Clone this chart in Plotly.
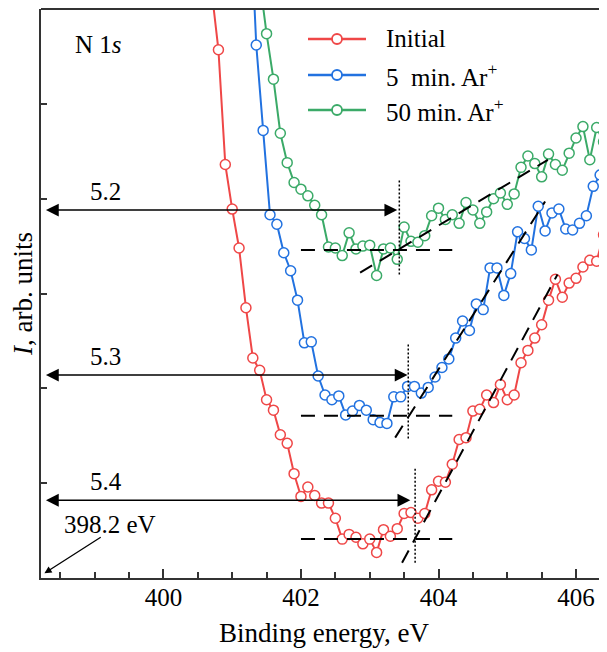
import plotly.graph_objects as go

# N 1s spectra, 0.1 eV steps (arb. units)
red_x = [400.7, 400.8, 400.9, 401.0, 401.1, 401.2, 401.3, 401.4, 401.5, 401.6,
         401.7, 401.8, 401.9, 402.0, 402.1, 402.2, 402.3, 402.4, 402.5, 402.6,
         402.7, 402.8, 402.9, 403.0, 403.1, 403.2, 403.3, 403.4, 403.5, 403.6,
         403.7, 403.8, 403.9, 404.0, 404.1, 404.2, 404.3, 404.4, 404.5, 404.6,
         404.7, 404.8, 404.9, 405.0, 405.1, 405.2, 405.3, 405.4, 405.5, 405.6,
         405.7, 405.8, 405.9, 406.0, 406.1, 406.2, 406.3, 406.4, 406.5]
red_y = [6.2, 5.57, 4.36, 3.89, 3.48, 2.85, 2.32, 2.19, 1.88, 1.77,
         1.51, 1.42, 1.10, 0.86, 0.96, 0.87, 0.79, 0.79, 0.63, 0.41,
         0.46, 0.43, 0.36, 0.41, 0.27, 0.51, 0.44, 0.52, 0.68, 0.69,
         0.63, 0.68, 0.93, 1.02, 1.01, 1.20, 1.46, 1.48, 1.76, 1.78,
         1.93, 1.85, 2.04, 1.88, 1.93, 2.27, 2.40, 2.53, 2.67, 2.93,
         3.15, 2.96, 3.11, 3.16, 3.28, 3.35, 3.34, 3.62, 3.06]

blue_x = [401.25, 401.35, 401.45, 401.55, 401.65, 401.75, 401.85, 401.95, 402.05, 402.15,
          402.25, 402.35, 402.45, 402.55, 402.65, 402.75, 402.85, 402.95, 403.05, 403.15,
          403.25, 403.35, 403.45, 403.55, 403.65, 403.75, 403.85, 403.95, 404.05, 404.15,
          404.25, 404.35, 404.45, 404.55, 404.65, 404.75, 404.85, 404.95, 405.05, 405.15,
          405.25, 405.35, 405.45, 405.55, 405.65, 405.75, 405.85, 405.95, 406.05, 406.15,
          406.25, 406.35, 406.45]
blue_y = [7.2, 5.62, 4.72, 3.83, 3.73, 3.43, 3.24, 2.93, 2.48, 2.49,
          2.13, 1.93, 1.88, 1.92, 1.72, 1.76, 1.82, 1.77, 1.67, 1.64,
          1.63, 1.91, 1.91, 2.02, 2.02, 1.95, 2.01, 2.12, 2.22, 2.31,
          2.53, 2.71, 2.61, 2.89, 2.83, 3.27, 3.27, 2.98, 3.21, 3.65,
          3.58, 3.46, 3.92, 3.66, 3.85, 3.89, 3.68, 3.67, 3.74, 3.82,
          4.13, 4.25, 4.20]

green_x = [401.4, 401.5, 401.6, 401.7, 401.8, 401.9, 402.0, 402.1, 402.2, 402.3,
           402.4, 402.5, 402.6, 402.7, 402.8, 402.9, 403.0, 403.1, 403.2, 403.3,
           403.4, 403.5, 403.6, 403.7, 403.8, 403.9, 404.0, 404.1, 404.2, 404.3,
           404.4, 404.5, 404.6, 404.7, 404.8, 404.9, 405.0, 405.1, 405.2, 405.3,
           405.4, 405.5, 405.6, 405.7, 405.8, 405.9, 406.0, 406.1, 406.2, 406.3,
           406.4, 406.5]
green_y = [6.3, 5.74, 5.26, 4.69, 4.38, 4.17, 4.10, 4.03, 3.93, 3.83,
           3.49, 3.48, 3.40, 3.64, 3.47, 3.50, 3.51, 3.19, 3.47, 3.48,
           3.36, 3.70, 3.55, 3.54, 3.61, 3.82, 3.90, 3.78, 3.83, 3.74,
           3.96, 3.88, 3.74, 3.86, 4.00, 4.06, 3.94, 4.05, 4.33, 4.45,
           4.37, 4.23, 4.47, 4.36, 4.30, 4.48, 4.64, 4.76, 4.41, 4.75,
           4.60, 4.83]

names = ["Initial", "5\u00a0 min. Ar<sup>+</sup>", "50 min. Ar<sup>+</sup>"]
colors = ["#EF4747", "#2272E0", "#3BAA68"]

# construction lines (order: initial, 5 min, 50 min)
base_x = [402.0, 404.2]
base_y = [0.41, 1.71, 3.46]
tan_x = [[403.47, 405.73], [403.37, 405.55], [402.86, 405.59]]
tan_y = [[0.16, 3.20], [1.48, 3.97], [3.22, 4.41]]
onset_x = [403.66, 403.56, 403.43]
onset_y = [[0.16, 1.17], [1.47, 2.48], [3.20, 4.21]]
arrow_tip = [403.59, 403.55, 403.40]
arrow_y = [0.82, 2.14, 3.88]
gap_labels = ["5.4", "5.3", "5.2"]
x_start = 398.27

# page body adds 8 px, so the figure is laid out 8 px up/left of the target
W, H = 607, 652
pw, ph = 566, 569
ml, mt = 33, 1
mr, mb = W - ml - pw, H - mt - ph
font = "Liberation Serif"

fig = go.Figure()
for xs, ys, nm, c in zip([red_x, blue_x, green_x], [red_y, blue_y, green_y], names, colors):
    fig.add_trace(go.Scatter(x=xs, y=ys, name=nm, mode="lines+markers",
                             line=dict(color=c, width=2),
                             marker=dict(symbol="circle", size=10, color="white",
                                         line=dict(color=c, width=1.5)),
                             showlegend=False))

for i in range(3):
    fig.add_trace(go.Scatter(x=base_x, y=[base_y[i], base_y[i]], mode="lines",
                             line=dict(color="black", width=2, dash="14px,9px"),
                             showlegend=False, hoverinfo="skip"))
    fig.add_trace(go.Scatter(x=tan_x[i], y=tan_y[i], mode="lines",
                             line=dict(color="black", width=2, dash="14px,9px"),
                             showlegend=False, hoverinfo="skip"))
    fig.add_trace(go.Scatter(x=[onset_x[i], onset_x[i]], y=onset_y[i], mode="lines",
                             line=dict(color="black", width=1.5, dash="2px,2px"),
                             showlegend=False, hoverinfo="skip"))
    fig.add_annotation(x=arrow_tip[i], y=arrow_y[i], ax=x_start, ay=arrow_y[i],
                       xref="x", yref="y", axref="x", ayref="y", text="",
                       showarrow=True, arrowhead=2, arrowside="end+start",
                       arrowsize=1.6, arrowwidth=1.6, arrowcolor="black", standoff=0,
                       startstandoff=0)
    fig.add_annotation(x=399.16, y=arrow_y[i], xref="x", yref="y", text=gap_labels[i],
                       showarrow=False, yshift=19)

fig.add_annotation(x=398.27, y=0.05, ax=399.11, ay=0.44, xref="x", yref="y",
                   axref="x", ayref="y", text="", showarrow=True, arrowhead=2,
                   arrowsize=1.1, arrowwidth=1.3, arrowcolor="black", standoff=0)
fig.add_annotation(x=399.22, y=0.56, xref="x", yref="y", text="398.2 eV",
                   showarrow=False)
fig.add_annotation(x=(73 - 41) / pw, y=(578 - 45) / ph, xref="paper",
                   yref="paper", text="N 1<i>s</i>", showarrow=False,
                   xanchor="left", yanchor="middle")

# hand-made legend (long line samples like the original)
shapes = [dict(type="line", xref="paper", yref="paper", x0=0, x1=1, y0=1, y1=1,
               line=dict(color="#333", width=2))]
for row, (nm, c) in enumerate(zip(names, colors)):
    py = [39, 75, 110][row]
    yp = (578 - py) / ph
    shapes.append(dict(type="line", xref="paper", yref="paper",
                       x0=(308 - 41) / pw, x1=(366 - 41) / pw, y0=yp, y1=yp,
                       line=dict(color=c, width=2.5)))
    shapes.append(dict(type="circle", xref="paper", yref="paper",
                       xsizemode="pixel", ysizemode="pixel",
                       xanchor=(337 - 41) / pw, yanchor=yp, x0=-5, x1=5, y0=-5, y1=5,
                       fillcolor="white", line=dict(color=c, width=1.8)))
    fig.add_annotation(x=(384 - 41) / pw, y=yp, xref="paper", yref="paper", text=nm,
                       showarrow=False, xanchor="left", yanchor="middle")

fig.update_layout(
    width=W, height=H,
    margin=dict(l=ml, r=mr, t=mt, b=mb, autoexpand=False),
    plot_bgcolor="white", paper_bgcolor="white",
    font=dict(family=font, size=25, color="black"),
    shapes=shapes,
    showlegend=False,
)
fig.update_xaxes(range=[398.22, 406.45], tick0=400, dtick=2, ticks="inside",
                 ticklen=9, tickwidth=1.5, tickcolor="#333",
                 minor=dict(dtick=0.5, ticks="inside", ticklen=6, tickwidth=1.5,
                            tickcolor="#333"),
                 showline=True, linecolor="#333", linewidth=2, showgrid=False,
                 zeroline=False, ticklabelstandoff=-4, automargin=False,
                 title=dict(text="Binding energy, eV", standoff=13,
                            font=dict(size=27)))
fig.update_yaxes(range=[0, 6], tick0=0, dtick=1, ticks="inside", ticklen=6,
                 tickwidth=1.5, tickcolor="#333", showticklabels=False,
                 showline=True, linecolor="#333", linewidth=2, showgrid=False,
                 zeroline=False, automargin=False,
                 title=dict(text="<i>I</i>, arb. units", standoff=10,
                            font=dict(size=27)))

fig.write_html("out.html")
